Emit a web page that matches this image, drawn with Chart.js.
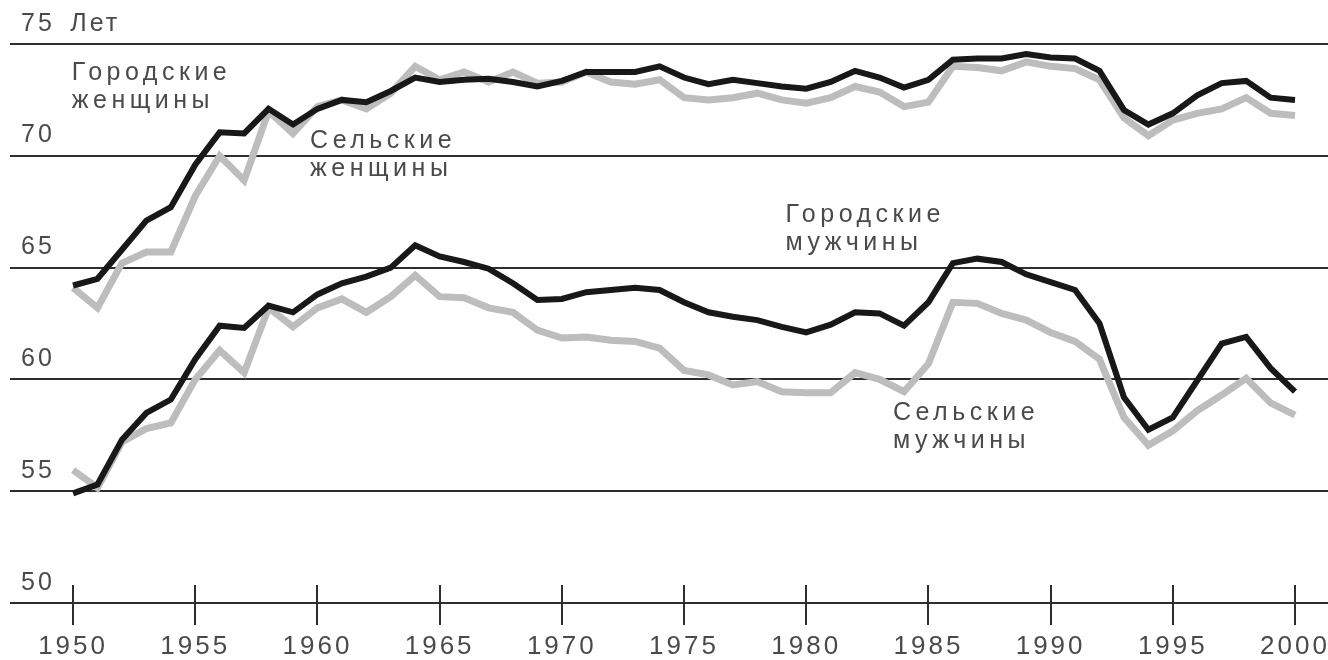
<!DOCTYPE html>
<html lang="ru">
<head>
<meta charset="utf-8">
<title>Ожидаемая продолжительность жизни</title>
<script src="https://cdn.jsdelivr.net/npm/chart.js@4/dist/chart.umd.min.js"></script>
<style>
  html, body { margin: 0; padding: 0; background: #fff; }
  canvas { display: block; }
</style>
</head>
<body>
<canvas id="lifeChart" width="1328" height="660"></canvas>
<script>
// years on the horizontal axis
const years = [1950, 1951, 1952, 1953, 1954, 1955, 1956, 1957, 1958, 1959,
               1960, 1961, 1962, 1963, 1964, 1965, 1966, 1967, 1968, 1969,
               1970, 1971, 1972, 1973, 1974, 1975, 1976, 1977, 1978, 1979,
               1980, 1981, 1982, 1983, 1984, 1985, 1986, 1987, 1988, 1989,
               1990, 1991, 1992, 1993, 1994, 1995, 1996, 1997, 1998, 1999, 2000];

// life expectancy, years
const urbanWomen = [64.2, 64.5, 65.8, 67.1, 67.7, 69.6, 71.05, 71.0, 72.1, 71.4,
                    72.1, 72.5, 72.4, 72.9, 73.5, 73.3, 73.4, 73.45, 73.3, 73.1,
                    73.35, 73.75, 73.75, 73.75, 74.0, 73.5, 73.2, 73.4, 73.25, 73.1,
                    73.0, 73.3, 73.8, 73.5, 73.05, 73.4, 74.3, 74.35, 74.35, 74.55,
                    74.4, 74.35, 73.8, 72.05, 71.4, 71.9, 72.7, 73.25, 73.35, 72.6, 72.5];
const ruralWomen = [64.1, 63.2, 65.2, 65.7, 65.7, 68.2, 70.0, 68.9, 72.0, 71.0,
                    72.2, 72.5, 72.1, 72.8, 74.0, 73.4, 73.75, 73.3, 73.75, 73.25,
                    73.3, 73.75, 73.3, 73.2, 73.4, 72.6, 72.5, 72.6, 72.8, 72.5,
                    72.35, 72.6, 73.1, 72.85, 72.2, 72.4, 74.0, 73.95, 73.8, 74.2,
                    74.0, 73.9, 73.4, 71.7, 70.9, 71.6, 71.9, 72.1, 72.6, 71.9, 71.8];
const urbanMen = [54.9, 55.3, 57.3, 58.5, 59.1, 60.9, 62.4, 62.3, 63.3, 63.0,
                  63.8, 64.3, 64.6, 65.0, 66.0, 65.5, 65.25, 64.95, 64.3, 63.55,
                  63.6, 63.9, 64.0, 64.1, 64.0, 63.45, 63.0, 62.8, 62.65, 62.35,
                  62.1, 62.45, 63.0, 62.95, 62.4, 63.45, 65.2, 65.4, 65.25, 64.7,
                  64.35, 64.0, 62.5, 59.2, 57.75, 58.3, 59.95, 61.6, 61.9, 60.5, 59.45];
const ruralMen = [55.95, 55.15, 57.2, 57.8, 58.05, 60.0, 61.3, 60.3, 63.2, 62.35,
                  63.2, 63.6, 63.0, 63.7, 64.65, 63.7, 63.65, 63.2, 63.0, 62.2,
                  61.85, 61.9, 61.75, 61.7, 61.4, 60.4, 60.2, 59.75, 59.9, 59.45,
                  59.4, 59.4, 60.3, 60.0, 59.45, 60.7, 63.45, 63.4, 62.95, 62.65,
                  62.1, 61.7, 60.9, 58.3, 57.05, 57.7, 58.6, 59.3, 60.05, 58.95, 58.4];

const xTicks = [1950, 1955, 1960, 1965, 1970, 1975, 1980, 1985, 1990, 1995, 2000];
const yTicks = [50, 55, 60, 65, 70, 75];
const yUnit = 'Лет';

// series captions, placed in data coordinates (year, value of first line)
const notes = [
  { lines: ['Городские', 'женщины'], year: 1949.95, value: 73.7 },
  { lines: ['Сельские', 'женщины'], year: 1959.7, value: 70.66 },
  { lines: ['Городские', 'мужчины'], year: 1979.15, value: 67.35 },
  { lines: ['Сельские', 'мужчины'], year: 1983.55, value: 58.5 }
];

const fontFamily = '"Liberation Sans", Arial, sans-serif';
const textColor = '#4a4a4a';
const ruleColor = '#2e2e2e';
const darkLine = '#181818';
const lightLine = '#bdbdbd';

function points(values) {
  return years.map((y, i) => ({ x: y, y: values[i] }));
}

// spaced-out lettering, as in the printed figure
const spacing = {
  id: 'spacing',
  beforeDraw(chart) {
    chart.ctx.letterSpacing = '3px';
  }
};

// year ticks cross the bottom rule
const tickCross = {
  id: 'tickCross',
  afterDraw(chart) {
    const ctx = chart.ctx;
    const xs = chart.scales.x;
    const y0 = chart.scales.y.getPixelForValue(50);
    ctx.save();
    ctx.strokeStyle = ruleColor;
    ctx.lineWidth = 2;
    ctx.beginPath();
    xTicks.forEach(t => {
      const px = Math.round(xs.getPixelForValue(t));
      ctx.moveTo(px, y0 - 18);
      ctx.lineTo(px, y0);
    });
    ctx.stroke();
    ctx.restore();
  }
};

const captions = {
  id: 'captions',
  afterDraw(chart) {
    const ctx = chart.ctx;
    const xs = chart.scales.x;
    const ys = chart.scales.y;
    ctx.save();
    ctx.font = '25px ' + fontFamily;
    ctx.letterSpacing = '4.5px';
    ctx.fillStyle = textColor;
    ctx.textAlign = 'left';
    ctx.textBaseline = 'middle';
    notes.forEach(n => {
      const px = xs.getPixelForValue(n.year);
      const py = ys.getPixelForValue(n.value);
      n.lines.forEach((line, i) => ctx.fillText(line, px, py + i * 28));
    });
    ctx.restore();
  }
};

let ctx = document.getElementById('lifeChart');
let lifeChart = new Chart(ctx, {
  type: 'line',
  data: {
    datasets: [
      { label: 'Городские женщины', data: points(urbanWomen), borderColor: darkLine, borderWidth: 6, order: 1 },
      { label: 'Сельские женщины', data: points(ruralWomen), borderColor: lightLine, borderWidth: 7, order: 2 },
      { label: 'Городские мужчины', data: points(urbanMen), borderColor: darkLine, borderWidth: 6, order: 1 },
      { label: 'Сельские мужчины', data: points(ruralMen), borderColor: lightLine, borderWidth: 7, order: 2 }
    ]
  },
  options: {
    responsive: false,
    animation: false,
    events: [],
    layout: { padding: { left: 2, right: 0, top: 44, bottom: 0 } },
    elements: {
      point: { radius: 0 },
      line: { tension: 0, fill: false }
    },
    plugins: {
      legend: { display: false },
      tooltip: { enabled: false }
    },
    scales: {
      x: {
        type: 'linear',
        min: 1947.42,
        max: 2001.35,
        afterBuildTicks: scale => { scale.ticks = xTicks.map(v => ({ value: v })); },
        afterFit: scale => { scale.height = 57; scale.paddingLeft = 0; scale.paddingRight = 0; },
        border: { display: false },
        grid: { drawOnChartArea: false, drawTicks: true, tickLength: 22, color: ruleColor, lineWidth: 2 },
        ticks: {
          color: textColor,
          font: { family: fontFamily, size: 26 },
          padding: 6,
          maxRotation: 0,
          autoSkip: false,
          callback: v => String(v)
        }
      },
      y: {
        min: 50,
        max: 75,
        afterBuildTicks: scale => { scale.ticks = yTicks.map(v => ({ value: v })); },
        // labels sit inside the plot, so keep the axis itself narrow
        afterFit: scale => { scale.width = 8; scale.paddingTop = 0; scale.paddingBottom = 0; },
        border: { display: false },
        grid: { drawTicks: false, color: ruleColor, lineWidth: 2 },
        ticks: {
          mirror: true,
          padding: 11,
          color: textColor,
          font: { family: fontFamily, size: 25, lineHeight: 1.62 },
          callback: v => v === 75 ? [v + '\u2002' + yUnit, ''] : [String(v), '']
        }
      }
    }
  },
  plugins: [spacing, tickCross, captions]
});
</script>
</body>
</html>
